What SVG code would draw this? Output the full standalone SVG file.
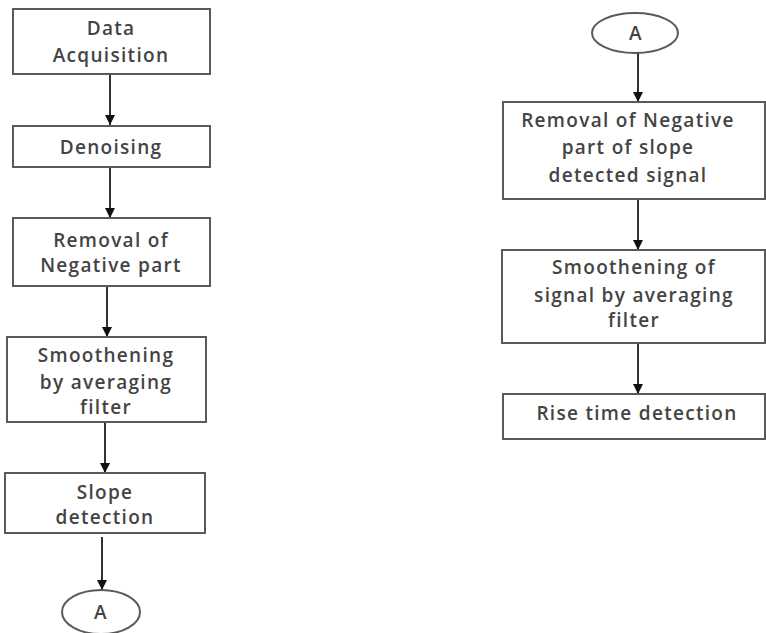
<svg xmlns="http://www.w3.org/2000/svg" width="766" height="633" viewBox="0 0 766 633">
<defs>
<style>
.box{fill:#fff;stroke:#5a5a5a;stroke-width:2}
.t{font-family:"Open Sans","Liberation Sans",sans-serif;font-size:19px;font-weight:600;letter-spacing:1.3px;fill:#444;text-anchor:middle}
.c{stroke:#333;stroke-width:2;fill:none;marker-end:url(#ah)}
</style>
<marker id="ah" viewBox="0 0 10 10" refX="10" refY="5" markerWidth="10" markerHeight="10" markerUnits="userSpaceOnUse" orient="auto">
<path d="M0,0 L10,5 L0,10 z" fill="#111"/>
</marker>
</defs>
<rect width="766" height="633" fill="#fff"/>
<g id="connectors">
<line class="c" x1="110" y1="74" x2="110" y2="125"/>
<line class="c" x1="110" y1="167" x2="110" y2="218"/>
<line class="c" x1="107" y1="286" x2="107" y2="337"/>
<line class="c" x1="105" y1="422" x2="105" y2="473"/>
<line class="c" x1="102" y1="537" x2="102" y2="590"/>
<line class="c" x1="638" y1="53" x2="638" y2="102"/>
<line class="c" x1="638" y1="199" x2="638" y2="250"/>
<line class="c" x1="638" y1="343" x2="638" y2="394"/>
</g>
<g id="n1"><rect class="box" x="13" y="9" width="197" height="65"/><text class="t" x="111" y="35">Data</text><text class="t" x="111" y="62">Acquisition</text></g>
<g id="n2"><rect class="box" x="13" y="126" width="197" height="41"/><text class="t" x="111" y="154">Denoising</text></g>
<g id="n3"><rect class="box" x="13" y="218" width="197" height="68"/><text class="t" x="111" y="247">Removal of</text><text class="t" x="111" y="272">Negative part</text></g>
<g id="n4"><rect class="box" x="7" y="337" width="199" height="85"/><text class="t" x="106" y="362">Smoothening</text><text class="t" x="106" y="389">by averaging</text><text class="t" x="106" y="414">filter</text></g>
<g id="n5"><rect class="box" x="5" y="473" width="200" height="60"/><text class="t" x="105" y="499">Slope</text><text class="t" x="105" y="524">detection</text></g>
<g id="n6"><ellipse class="box" cx="101" cy="612" rx="39" ry="22"/><text class="t" x="101" y="619">A</text></g>
<g id="n7"><ellipse class="box" cx="635" cy="33" rx="43" ry="20"/><text class="t" x="636" y="40">A</text></g>
<g id="n8"><rect class="box" x="503" y="102" width="262" height="97"/><text class="t" x="628" y="127">Removal of Negative</text><text class="t" x="628" y="154">part of slope</text><text class="t" x="628" y="182">detected signal</text></g>
<g id="n9"><rect class="box" x="502" y="250" width="263" height="93"/><text class="t" x="634" y="274">Smoothening of</text><text class="t" x="634" y="302">signal by averaging</text><text class="t" x="634" y="327">filter</text></g>
<g id="n10"><rect class="box" x="503" y="394" width="262" height="45"/><text class="t" x="637" y="420">Rise time detection</text></g>
</svg>
